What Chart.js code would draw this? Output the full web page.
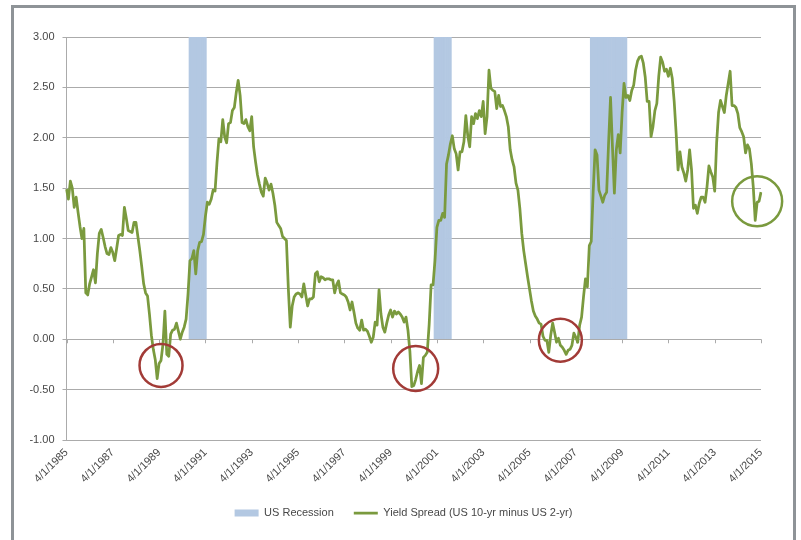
<!DOCTYPE html>
<html>
<head>
<meta charset="utf-8">
<script src="https://cdn.jsdelivr.net/npm/chart.js@4"></script>
<style>
  html, body { margin: 0; padding: 0; background: #fff; }
  #frame {
    position: absolute; left: 11px; top: 5px;
    width: 779px; height: 560px;
    border: 3px solid #8e9397; background: #fff;
  }
  #wrap { position: absolute; left: 0; top: 0; width: 801px; height: 540px; }
</style>
</head>
<body>
<div id="frame"></div>
<div id="wrap"><canvas id="myChart" width="801" height="540"></canvas></div>
<script>
// Monthly yield spread (US 10-yr minus US 2-yr), starting 4/1/1985
const spread1985to1994 = [
  1.49, 1.39, 1.57, 1.50, 1.31, 1.41, 1.26, 1.12, 1.00, 1.10, 0.46, 0.44,
  0.55, 0.62, 0.69, 0.56, 0.85, 1.05, 1.09, 1.01, 0.92, 0.85, 0.84, 0.91,
  0.86, 0.78, 0.90, 1.03, 1.04, 1.03, 1.31, 1.20, 1.08, 1.07, 1.06, 1.16,
  1.16, 1.02, 0.88, 0.72, 0.55, 0.46, 0.43, 0.25, 0.04, -0.10, -0.20, -0.39,
  -0.24, -0.21, -0.05, 0.28, -0.15, -0.17, 0.05, 0.09, 0.10, 0.16, 0.08, 0.00,
  0.07, 0.12, 0.20, 0.45, 0.78, 0.80, 0.88, 0.65, 0.88, 0.96, 0.97, 1.04,
  1.22, 1.36, 1.34, 1.39, 1.48, 1.47, 1.75, 1.99, 1.96, 2.18, 2.01, 1.95,
  2.14, 2.15, 2.27, 2.30, 2.45, 2.57, 2.42, 2.15, 2.14, 2.18, 2.11, 2.07,
  2.21, 1.91, 1.76, 1.63, 1.54, 1.46, 1.42, 1.60, 1.55, 1.48, 1.54, 1.45,
  1.33, 1.16, 1.13, 1.10, 1.02, 1.00, 0.98, 0.50, 0.12, 0.33, 0.42, 0.45
];
const spread1995to2004 = [
  0.46, 0.45, 0.42, 0.55, 0.44, 0.33, 0.40, 0.40, 0.42, 0.65, 0.67, 0.57,
  0.62, 0.61, 0.59, 0.60, 0.60, 0.59, 0.59, 0.46, 0.54, 0.58, 0.46, 0.45,
  0.44, 0.42, 0.37, 0.29, 0.37, 0.27, 0.16, 0.11, 0.09, 0.19, 0.09, 0.10,
  0.08, 0.03, -0.03, 0.02, 0.17, 0.14, 0.49, 0.25, 0.12, 0.07, 0.16, 0.24,
  0.29, 0.22, 0.28, 0.25, 0.27, 0.25, 0.22, 0.17, 0.22, 0.09, -0.12, -0.47,
  -0.46, -0.40, -0.32, -0.26, -0.44, -0.18, -0.16, -0.13, 0.15, 0.54, 0.54, 0.78,
  1.11, 1.18, 1.18, 1.25, 1.21, 1.74, 1.83, 1.94, 2.02, 1.89, 1.84, 1.68,
  1.86, 1.86, 1.96, 2.22, 2.02, 1.91, 2.21, 2.14, 2.24, 2.19, 2.27, 2.21,
  2.36, 2.04, 2.21, 2.67, 2.49, 2.47, 2.46, 2.29, 2.42, 2.31, 2.32, 2.27,
  2.21, 2.11, 1.88, 1.78, 1.71, 1.55, 1.48, 1.30, 1.05, 0.88, 0.75, 0.62
];
const spread2005to2015 = [
  0.50, 0.38, 0.28, 0.23, 0.20, 0.16, 0.15, 0.03, -0.01, -0.01, -0.13, 0.04,
  0.16, 0.07, -0.03, 0.01, -0.06, -0.08, -0.11, -0.15, -0.11, -0.10, -0.06, 0.06,
  0.02, -0.03, 0.14, 0.22, 0.42, 0.60, 0.52, 0.93, 0.97, 1.46, 1.88, 1.83,
  1.48, 1.42, 1.36, 1.43, 1.46, 1.95, 2.40, 1.91, 1.45, 1.88, 2.03, 1.85,
  2.25, 2.54, 2.40, 2.42, 2.37, 2.47, 2.52, 2.67, 2.76, 2.80, 2.81, 2.74,
  2.60, 2.36, 2.36, 2.01, 2.11, 2.27, 2.34, 2.61, 2.80, 2.75, 2.66, 2.68,
  2.61, 2.69, 2.59, 2.36, 2.05, 1.68, 1.86, 1.71, 1.65, 1.57, 1.68, 1.88,
  1.68, 1.30, 1.33, 1.25, 1.35, 1.41, 1.41, 1.36, 1.51, 1.72, 1.66, 1.61,
  1.47, 1.95, 2.25, 2.37, 2.31, 2.25, 2.42, 2.54, 2.66, 2.32, 2.32, 2.30,
  2.24, 2.10, 2.06, 2.01, 1.85, 1.93, 1.89, 1.74, 1.51, 1.18, 1.36, 1.37, 1.46
];
const spread = spread1985to1994.concat(spread1995to2004, spread2005to2015);

// Recession periods (first and last month shaded)
const recessionStarts = ['8/1/1990', '3/1/2001', '12/1/2007'];
const recessionEnds = ['4/1/1991', '11/1/2001', '6/1/2009'];
const recessionHeight = 3;

// Circled spots
const redCircleDates = ['5/1/1989', '5/1/2000', '8/1/2006'];
const redCircleValues = [-0.26, -0.29, -0.01];
const redCircleRadii = [21.5, 22.5, 21.5];
const greenCircleDates = ['2/1/2015'];
const greenCircleValues = [1.37];
const greenCircleRadii = [25];

// month labels like 4/1/1985
const labels = spread.map((v, i) => {
  const m = (3 + i) % 12 + 1;
  const y = 1985 + Math.floor((3 + i) / 12);
  return m + '/1/' + y;
});

const recession = labels.map((lab, i) => {
  for (let k = 0; k < recessionStarts.length; k++) {
    if (i >= labels.indexOf(recessionStarts[k]) && i <= labels.indexOf(recessionEnds[k])) return recessionHeight;
  }
  return null;
});

const toBubbles = (dates, values, radii) => dates.map((d, i) => ({ x: d, y: values[i], r: radii[i] }));

const textColor = '#474747';
const gridColor = '#ababab';
const font = { family: 'Liberation Sans', size: 11 };

// small tick marks on the zero line every 24 months
const zeroTicks = {
  id: 'zeroTicks',
  beforeDatasetsDraw(chart) {
    const { ctx, scales: { x, y } } = chart;
    const y0 = y.getPixelForValue(0);
    ctx.save();
    ctx.strokeStyle = gridColor;
    ctx.lineWidth = 1;
    for (let i = 0; i < labels.length; i += 24) {
      const px = Math.round(x.getPixelForValue(i)) + 0.5;
      ctx.beginPath();
      ctx.moveTo(px, y0);
      ctx.lineTo(px, y0 + 4);
      ctx.stroke();
    }
    ctx.restore();
  }
};

const ctx = document.getElementById('myChart').getContext('2d');
const myChart = new Chart(ctx, {
  type: 'bar',
  data: {
    labels: labels,
    datasets: [{
      type: 'bar',
      label: 'US Recession',
      data: recession,
      backgroundColor: '#b3c8e2',
      borderWidth: 0,
      barPercentage: 1,
      categoryPercentage: 1,
      order: 2
    }, {
      type: 'line',
      label: 'Yield Spread (US 10-yr minus US 2-yr)',
      data: spread,
      borderColor: '#7a9a3e',
      backgroundColor: '#7a9a3e',
      borderWidth: 2.75,
      pointRadius: 0,
      tension: 0,
      borderJoinStyle: 'round',
      order: 1
    }, {
      type: 'bubble',
      label: 'red circles',
      data: toBubbles(redCircleDates, redCircleValues, redCircleRadii),
      backgroundColor: 'rgba(0,0,0,0)',
      borderColor: '#a23b37',
      borderWidth: 2.5,
      clip: false,
      order: 0
    }, {
      type: 'bubble',
      label: 'green circle',
      data: toBubbles(greenCircleDates, greenCircleValues, greenCircleRadii),
      backgroundColor: 'rgba(0,0,0,0)',
      borderColor: '#7a9a3e',
      borderWidth: 2.5,
      clip: false,
      order: 0
    }]
  },
  options: {
    responsive: false,
    animation: false,
    events: [],
    layout: { padding: { left: 14, right: 8, top: 37, bottom: 11.5 } },
    plugins: {
      tooltip: { enabled: false },
      legend: {
        position: 'bottom',
        labels: {
          usePointStyle: true,
          pointStyleWidth: 24,
          boxHeight: 7,
          padding: 20,
          color: textColor,
          font: font,
          filter: (item) => item.datasetIndex < 2,
          sort: (a, b) => a.datasetIndex - b.datasetIndex,
          generateLabels(chart) {
            const items = Chart.defaults.plugins.legend.labels.generateLabels(chart);
            items.forEach(it => { it.pointStyle = it.datasetIndex === 0 ? 'rect' : 'line'; });
            return items;
          }
        }
      }
    },
    scales: {
      x: {
        type: 'category',
        offset: false,
        grid: { display: false, drawTicks: false, offset: false },
        border: { display: false },
        ticks: {
          autoSkip: false,
          maxRotation: 45,
          minRotation: 45,
          padding: 6,
          color: textColor,
          font: font,
          callback: function (value, index) {
            return index % 24 === 0 ? this.getLabelForValue(value) : null;
          }
        },
        afterFit(scale) { scale.height = 47.5; }
      },
      y: {
        min: -1,
        max: 3,
        ticks: {
          stepSize: 0.5,
          padding: 8,
          color: textColor,
          font: font,
          callback: (v) => v.toFixed(2)
        },
        grid: { color: gridColor, tickLength: 4 },
        border: { color: gridColor },
        afterFit(scale) { scale.width = 52.5; }
      },
      yRight: {
        position: 'right',
        grid: { display: false },
        border: { display: false },
        ticks: { display: false },
        afterFit(scale) { scale.width = 32; }
      }
    }
  },
  plugins: [zeroTicks]
});
</script>
</body>
</html>
